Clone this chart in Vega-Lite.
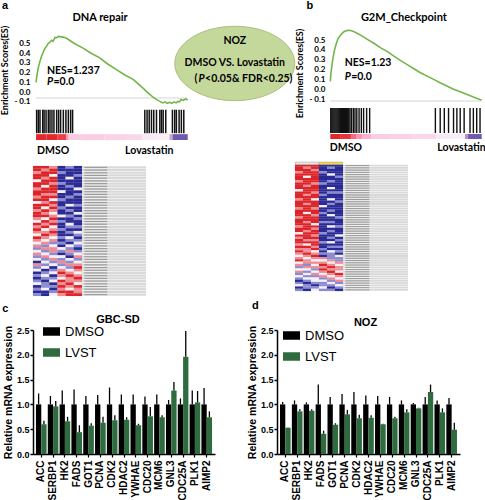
{
"$schema": "https://vega.github.io/schema/vega-lite/v6.json",
"background": "white",
"padding": {"left": 0, "top": 0, "right": 0, "bottom": 0},
"config": {"view": {"stroke": null}, "font": "Liberation Sans", "axis": {"labelColor": "black", "titleColor": "black", "labelOverlap": false}, "axisY": {"labelOverlap": false}, "axisQuantitative": {"labelOverlap": false}},
"data": {"values": [{"k": 1}]},
"datasets": {
"esA": [{"x":0,"es":0.1},{"x":0.6,"es":0.17},{"x":1.5,"es":0.25},{"x":2.5,"es":0.31},{"x":3.7,"es":0.37},{"x":4.8,"es":0.41},{"x":5.9,"es":0.45},{"x":7,"es":0.47},{"x":8.1,"es":0.5},{"x":9.2,"es":0.51},{"x":10.3,"es":0.53},{"x":11.2,"es":0.52},{"x":12.5,"es":0.56},{"x":13.5,"es":0.555},{"x":14.7,"es":0.57},{"x":16.8,"es":0.565},{"x":18.5,"es":0.56},{"x":20.1,"es":0.55},{"x":25,"es":0.5},{"x":31,"es":0.45},{"x":36,"es":0.4},{"x":42,"es":0.35},{"x":47,"es":0.29},{"x":53,"es":0.23},{"x":58,"es":0.18},{"x":64,"es":0.13},{"x":67,"es":0.09},{"x":70.5,"es":0.04},{"x":72.5,"es":0.01},{"x":74.8,"es":-0.02},{"x":77,"es":-0.05},{"x":79.2,"es":-0.075},{"x":81,"es":-0.09},{"x":83.6,"es":-0.11},{"x":85,"es":-0.1},{"x":86.5,"es":-0.115},{"x":88,"es":-0.105},{"x":89.5,"es":-0.115},{"x":91,"es":-0.1},{"x":92.3,"es":-0.11},{"x":93.5,"es":-0.095},{"x":94.5,"es":-0.1},{"x":95.6,"es":-0.075},{"x":97,"es":-0.085},{"x":98.5,"es":-0.07},{"x":100,"es":-0.08}],
"esB": [{"x":0,"es":0.08},{"x":0.5,"es":0.17},{"x":1.5,"es":0.29},{"x":2.5,"es":0.38},{"x":3.7,"es":0.45},{"x":5,"es":0.51},{"x":7,"es":0.555},{"x":9,"es":0.585},{"x":11.4,"es":0.6},{"x":13.5,"es":0.597},{"x":15.8,"es":0.585},{"x":20,"es":0.55},{"x":24.5,"es":0.507},{"x":29,"es":0.465},{"x":33.3,"es":0.42},{"x":38,"es":0.38},{"x":42,"es":0.337},{"x":46,"es":0.295},{"x":50.8,"es":0.25},{"x":55,"es":0.21},{"x":59.5,"es":0.167},{"x":64,"es":0.133},{"x":68.3,"es":0.1},{"x":72.5,"es":0.065},{"x":77,"es":0.032},{"x":81,"es":0.003},{"x":85.8,"es":-0.026},{"x":90,"es":-0.052},{"x":94.5,"es":-0.08},{"x":97,"es":-0.095},{"x":98.9,"es":-0.105},{"x":100,"es":-0.11}],
"hitsA": [{"x":0.4},{"x":1.5},{"x":2.6},{"x":4.4},{"x":5.3},{"x":6.6},{"x":8.1},{"x":9.2},{"x":10.5},{"x":11.8},{"x":13.6},{"x":14.9},{"x":16.2},{"x":18},{"x":19.7},{"x":21.3},{"x":22.8},{"x":24.1},{"x":71.7},{"x":73.2},{"x":74.6},{"x":76.1},{"x":77.6},{"x":79.4},{"x":81.6},{"x":82.7},{"x":83.8},{"x":85.5},{"x":89.9},{"x":91.4},{"x":92.5},{"x":94.3},{"x":95.8},{"x":97.4}],
"hitsB": [{"x":0.3},{"x":1},{"x":1.7},{"x":2.4},{"x":3.1},{"x":3.8},{"x":4.5},{"x":5.2},{"x":5.9},{"x":6.6},{"x":7.3},{"x":8},{"x":8.7},{"x":9.4},{"x":10.1},{"x":10.8},{"x":11.5},{"x":12.2},{"x":13},{"x":14},{"x":15.2},{"x":16.3},{"x":17.5},{"x":19},{"x":20.5},{"x":22},{"x":24},{"x":26},{"x":69.4},{"x":72.6},{"x":75.3},{"x":78.1},{"x":81.4},{"x":83.6},{"x":85.8},{"x":88.4},{"x":92.3},{"x":94.5},{"x":96.7},{"x":98.9}],
"gradA": [{"s":0,"e":7,"v":1},{"s":7,"e":14,"v":1},{"s":14,"e":20,"v":0.9},{"s":20,"e":21.5,"v":0.5},{"s":21.5,"e":30,"v":0.22},{"s":30,"e":45,"v":0.2},{"s":45,"e":60,"v":0.18},{"s":60,"e":70,"v":0.15},{"s":70,"e":80,"v":0.05},{"s":80,"e":88,"v":0.02},{"s":88,"e":90,"v":-0.4},{"s":90,"e":100,"v":-0.85}],
"gradB": [{"s":0,"e":7,"v":1},{"s":7,"e":13.6,"v":0.95},{"s":13.6,"e":17,"v":0.7},{"s":17,"e":21,"v":0.5},{"s":21,"e":27,"v":0.35},{"s":27,"e":40,"v":0.2},{"s":40,"e":55,"v":0.18},{"s":55,"e":70,"v":0.15},{"s":70,"e":80,"v":0.05},{"s":80,"e":89,"v":0.02},{"s":89,"e":91,"v":-0.5},{"s":91,"e":100,"v":-0.85}],
"heatA": [
{"r":1,"1":2,"2":2,"3":1,"4":-2,"5":-1,"6":-2},{"r":2,"1":2,"2":1,"3":2,"4":-2,"5":-2,"6":-2},{"r":3,"1":1,"2":2,"3":2,"4":-1,"5":-2,"6":-2},{"r":4,"1":2,"2":2,"3":0,"4":-2,"5":-2,"6":-1},{"r":5,"1":2,"2":1,"3":2,"4":-2,"5":0,"6":-2},{"r":6,"1":0,"2":2,"3":2,"4":-2,"5":-2,"6":-2},{"r":7,"1":2,"2":2,"3":1,"4":-1,"5":-2,"6":-2},{"r":8,"1":2,"2":0,"3":2,"4":-2,"5":-1,"6":-2},{"r":9,"1":1,"2":2,"3":2,"4":-2,"5":-2,"6":0},{"r":10,"1":2,"2":2,"3":2,"4":0,"5":-2,"6":-2},{"r":11,"1":2,"2":1,"3":1,"4":-2,"5":-2,"6":-1},{"r":12,"1":1,"2":2,"3":2,"4":-2,"5":-1,"6":-2},{"r":13,"1":2,"2":2,"3":0,"4":-1,"5":-2,"6":-2},{"r":14,"1":0,"2":1,"3":2,"4":-2,"5":-2,"6":-2},{"r":15,"1":2,"2":2,"3":1,"4":-2,"5":0,"6":-1},{"r":16,"1":2,"2":0,"3":2,"4":-1,"5":-2,"6":-2},{"r":17,"1":1,"2":2,"3":1,"4":-2,"5":-1,"6":-2},{"r":18,"1":2,"2":1,"3":0,"4":-2,"5":-2,"6":0},{"r":19,"1":2,"2":2,"3":1,"4":0,"5":-1,"6":-2},{"r":20,"1":1,"2":0,"3":2,"4":-2,"5":-2,"6":-1},{"r":21,"1":0,"2":2,"3":1,"4":-1,"5":-2,"6":-2},{"r":22,"1":2,"2":1,"3":2,"4":-2,"5":0,"6":-2},{"r":23,"1":1,"2":2,"3":0,"4":-2,"5":-1,"6":-1},{"r":24,"1":2,"2":0,"3":1,"4":-1,"5":-2,"6":-2},{"r":25,"1":1,"2":1,"3":2,"4":-2,"5":-1,"6":0},{"r":26,"1":0,"2":2,"3":1,"4":-2,"5":-2,"6":-1},{"r":27,"1":2,"2":1,"3":0,"4":-1,"5":0,"6":-2},{"r":28,"1":1,"2":0,"3":1,"4":-2,"5":-1,"6":-1},{"r":29,"1":0,"2":1,"3":-1,"4":-1,"5":-2,"6":0},{"r":30,"1":1,"2":-1,"3":0,"4":-2,"5":0,"6":-1},{"r":31,"1":-1,"2":1,"3":1,"4":0,"5":-1,"6":-2},{"r":32,"1":0,"2":-1,"3":1,"4":-1,"5":1,"6":-1},{"r":33,"1":1,"2":0,"3":-1,"4":-2,"5":-1,"6":0},{"r":34,"1":-1,"2":1,"3":0,"4":0,"5":-2,"6":1},{"r":35,"1":0,"2":-1,"3":1,"4":-1,"5":0,"6":-1},{"r":36,"1":-2,"2":0,"3":-1,"4":1,"5":-1,"6":0},{"r":37,"1":1,"2":-1,"3":0,"4":-1,"5":1,"6":1},{"r":38,"1":-1,"2":0,"3":-2,"4":0,"5":-1,"6":2},{"r":39,"1":0,"2":-2,"3":-1,"4":1,"5":0,"6":1},{"r":40,"1":-2,"2":-1,"3":0,"4":2,"5":1,"6":0},{"r":41,"1":-1,"2":0,"3":-2,"4":1,"5":2,"6":1},{"r":42,"1":-2,"2":-1,"3":-1,"4":0,"5":1,"6":2},{"r":43,"1":-1,"2":-2,"3":0,"4":2,"5":1,"6":1},{"r":44,"1":0,"2":-1,"3":-2,"4":1,"5":2,"6":0},{"r":45,"1":-2,"2":-1,"3":-1,"4":2,"5":1,"6":2},{"r":46,"1":-1,"2":0,"3":-2,"4":1,"5":0,"6":1},{"r":47,"1":-2,"2":-2,"3":-1,"4":2,"5":2,"6":1},{"r":48,"1":-1,"2":-2,"3":0,"4":1,"5":2,"6":2}],
"heatB": [
{"r":1,"1":2,"2":2,"3":2,"4":-2,"5":-2,"6":-2},{"r":2,"1":2,"2":1,"3":2,"4":-2,"5":-1,"6":-2},{"r":3,"1":2,"2":2,"3":1,"4":-2,"5":-2,"6":-2},{"r":4,"1":1,"2":2,"3":2,"4":-1,"5":-2,"6":-2},{"r":5,"1":2,"2":2,"3":2,"4":-2,"5":0,"6":-2},{"r":6,"1":2,"2":0,"3":2,"4":-2,"5":-2,"6":-1},{"r":7,"1":2,"2":2,"3":2,"4":-2,"5":-2,"6":-2},{"r":8,"1":1,"2":2,"3":2,"4":-2,"5":-1,"6":-2},{"r":9,"1":2,"2":2,"3":1,"4":-1,"5":-2,"6":-2},{"r":10,"1":2,"2":1,"3":2,"4":-2,"5":-2,"6":-2},{"r":11,"1":2,"2":2,"3":2,"4":-2,"5":0,"6":-2},{"r":12,"1":0,"2":2,"3":2,"4":-2,"5":-2,"6":-2},{"r":13,"1":2,"2":2,"3":1,"4":-2,"5":-1,"6":-1},{"r":14,"1":2,"2":1,"3":2,"4":-1,"5":-2,"6":-2},{"r":15,"1":2,"2":2,"3":2,"4":-2,"5":-2,"6":-2},{"r":16,"1":1,"2":2,"3":0,"4":-2,"5":0,"6":-2},{"r":17,"1":2,"2":2,"3":2,"4":-2,"5":-2,"6":-1},{"r":18,"1":2,"2":1,"3":2,"4":-2,"5":-1,"6":-2},{"r":19,"1":2,"2":2,"3":2,"4":0,"5":-2,"6":-2},{"r":20,"1":1,"2":2,"3":1,"4":-2,"5":-2,"6":-2},{"r":21,"1":2,"2":2,"3":2,"4":-2,"5":-1,"6":-2},{"r":22,"1":2,"2":0,"3":2,"4":-1,"5":-2,"6":-2},{"r":23,"1":2,"2":2,"3":1,"4":-2,"5":0,"6":-2},{"r":24,"1":1,"2":2,"3":2,"4":-2,"5":-2,"6":-1},{"r":25,"1":2,"2":2,"3":2,"4":-2,"5":-2,"6":-2},{"r":26,"1":2,"2":1,"3":2,"4":-1,"5":-1,"6":-2},{"r":27,"1":2,"2":2,"3":0,"4":-2,"5":-2,"6":-2},{"r":28,"1":1,"2":2,"3":2,"4":-2,"5":0,"6":-1},{"r":29,"1":2,"2":2,"3":1,"4":-2,"5":-2,"6":-2},{"r":30,"1":2,"2":1,"3":2,"4":-2,"5":-1,"6":-2},{"r":31,"1":0,"2":2,"3":2,"4":-1,"5":-2,"6":-2},{"r":32,"1":2,"2":2,"3":1,"4":-2,"5":-2,"6":0},{"r":33,"1":1,"2":2,"3":2,"4":-2,"5":-1,"6":-2},{"r":34,"1":2,"2":1,"3":1,"4":-2,"5":-2,"6":-1},{"r":35,"1":2,"2":2,"3":2,"4":-1,"5":0,"6":-2},{"r":36,"1":1,"2":0,"3":2,"4":-2,"5":-2,"6":-2},{"r":37,"1":2,"2":2,"3":1,"4":-2,"5":-1,"6":-1},{"r":38,"1":1,"2":1,"3":2,"4":-1,"5":-2,"6":-2},{"r":39,"1":2,"2":1,"3":0,"4":-2,"5":0,"6":-1},{"r":40,"1":1,"2":2,"3":1,"4":-1,"5":-1,"6":-2},{"r":41,"1":0,"2":1,"3":2,"4":-2,"5":-1,"6":0},{"r":42,"1":1,"2":0,"3":1,"4":1,"5":-1,"6":-1},{"r":43,"1":2,"2":1,"3":0,"4":0,"5":1,"6":-1},{"r":44,"1":0,"2":1,"3":1,"4":1,"5":0,"6":1},{"r":45,"1":1,"2":-1,"3":0,"4":2,"5":1,"6":0},{"r":46,"1":-1,"2":1,"3":1,"4":1,"5":2,"6":1},{"r":47,"1":0,"2":0,"3":-1,"4":2,"5":1,"6":1},{"r":48,"1":1,"2":-1,"3":0,"4":1,"5":2,"6":0},{"r":49,"1":-1,"2":0,"3":1,"4":0,"5":1,"6":2},{"r":50,"1":0,"2":-1,"3":-1,"4":1,"5":0,"6":1},{"r":51,"1":-1,"2":0,"3":0,"4":-1,"5":1,"6":0},{"r":52,"1":-2,"2":-1,"3":0,"4":0,"5":-1,"6":1},{"r":53,"1":-1,"2":-2,"3":-1,"4":-1,"5":0,"6":-1},{"r":54,"1":0,"2":-1,"3":-2,"4":-1,"5":-1,"6":0},{"r":55,"1":-2,"2":-1,"3":-1,"4":0,"5":-2,"6":-1},{"r":56,"1":-1,"2":-2,"3":0,"4":-1,"5":-1,"6":-2}],
"barC": [
{"gene":"ACC","grp":"DMSO","val":1,"err":1.22},{"gene":"ACC","grp":"LVST","val":0.6,"err":0.67},
{"gene":"SERBP1","grp":"DMSO","val":1,"err":1.17},{"gene":"SERBP1","grp":"LVST","val":0.96,"err":1.07},
{"gene":"HK2","grp":"DMSO","val":1,"err":1.28},{"gene":"HK2","grp":"LVST","val":0.66,"err":0.75},
{"gene":"FADS","grp":"DMSO","val":1,"err":1.3},{"gene":"FADS","grp":"LVST","val":0.44,"err":0.58},
{"gene":"GOT1","grp":"DMSO","val":1,"err":1.17},{"gene":"GOT1","grp":"LVST","val":0.57,"err":0.62},
{"gene":"PCNA","grp":"DMSO","val":1,"err":1.19},{"gene":"PCNA","grp":"LVST","val":0.63,"err":0.75},
{"gene":"CDK2","grp":"DMSO","val":1,"err":1.34},{"gene":"CDK2","grp":"LVST","val":0.68,"err":0.78},
{"gene":"HDAC2","grp":"DMSO","val":1,"err":1.2},{"gene":"HDAC2","grp":"LVST","val":0.69,"err":0.74},
{"gene":"YWHAE","grp":"DMSO","val":1,"err":1.2},{"gene":"YWHAE","grp":"LVST","val":0.58,"err":0.61},
{"gene":"CDC20","grp":"DMSO","val":1,"err":1.16},{"gene":"CDC20","grp":"LVST","val":0.76,"err":0.95},
{"gene":"MCM6","grp":"DMSO","val":1,"err":1.2},{"gene":"MCM6","grp":"LVST","val":0.74,"err":0.78},
{"gene":"GNL3","grp":"DMSO","val":1,"err":1.09},{"gene":"GNL3","grp":"LVST","val":1.28,"err":1.45},
{"gene":"CDC25A","grp":"DMSO","val":1,"err":1.12},{"gene":"CDC25A","grp":"LVST","val":1.96,"err":2.48},
{"gene":"PLK1","grp":"DMSO","val":1,"err":1.28},{"gene":"PLK1","grp":"LVST","val":1.04,"err":1.27},
{"gene":"AIMP2","grp":"DMSO","val":1,"err":1.33},{"gene":"AIMP2","grp":"LVST","val":0.74,"err":0.86}],
"barD": [
{"gene":"ACC","grp":"DMSO","val":1,"err":1.05},{"gene":"ACC","grp":"LVST","val":0.53,"err":0.535},
{"gene":"SERBP1","grp":"DMSO","val":1,"err":1.08},{"gene":"SERBP1","grp":"LVST","val":0.86,"err":0.9},
{"gene":"HK2","grp":"DMSO","val":1,"err":1.04},{"gene":"HK2","grp":"LVST","val":0.87,"err":0.9},
{"gene":"FADS","grp":"DMSO","val":1,"err":1.4},{"gene":"FADS","grp":"LVST","val":0.41,"err":0.47},
{"gene":"GOT1","grp":"DMSO","val":1,"err":1.15},{"gene":"GOT1","grp":"LVST","val":0.59,"err":0.62},
{"gene":"PCNA","grp":"DMSO","val":1,"err":1.21},{"gene":"PCNA","grp":"LVST","val":0.8,"err":0.89},
{"gene":"CDK2","grp":"DMSO","val":1,"err":1.25},{"gene":"CDK2","grp":"LVST","val":0.72,"err":0.79},
{"gene":"HDAC2","grp":"DMSO","val":1,"err":1.18},{"gene":"HDAC2","grp":"LVST","val":0.73,"err":0.78},
{"gene":"YWHAE","grp":"DMSO","val":1,"err":1.17},{"gene":"YWHAE","grp":"LVST","val":0.6,"err":0.61},
{"gene":"CDC20","grp":"DMSO","val":1,"err":1.15},{"gene":"CDC20","grp":"LVST","val":0.72,"err":0.75},
{"gene":"MCM6","grp":"DMSO","val":1,"err":1.08},{"gene":"MCM6","grp":"LVST","val":0.84,"err":0.9},
{"gene":"GNL3","grp":"DMSO","val":1,"err":1.03},{"gene":"GNL3","grp":"LVST","val":0.92,"err":0.93},
{"gene":"CDC25A","grp":"DMSO","val":1,"err":1.15},{"gene":"CDC25A","grp":"LVST","val":1.25,"err":1.4},
{"gene":"PLK1","grp":"DMSO","val":1,"err":1.08},{"gene":"PLK1","grp":"LVST","val":0.84,"err":0.92},
{"gene":"AIMP2","grp":"DMSO","val":1,"err":1.13},{"gene":"AIMP2","grp":"LVST","val":0.49,"err":0.63}]
},
"columns": 2,
"align": "each",
"bounds": "flush",
"spacing": {"row": 20, "column": 62},
"resolve": {"scale": {"color": "independent"}, "legend": {"color": "independent"}},
"concat": [
 {"width": 182, "height": 110,
  "layer": [
   {"mark": {"type": "rule", "color": "#d4d4d4", "strokeWidth": 1},
    "encoding": {"x": {"datum": 0, "type": "quantitative", "scale": {"domain": [-2, 117.97], "nice": false, "zero": false}, "axis": null}, "x2": {"datum": 100},
     "y": {"datum": -0.06, "type": "quantitative", "scale": {"domain": [-0.5, 0.625], "nice": false, "zero": false},
      "axis": {"tickCount": 11, "labelExpr": "(datum.value < -0.15 || datum.value > 0.55) ? '' : (datum.value < -0.05 ? '- 0.1' : format(datum.value, '.1f'))", "labelOverlap": false, "domain": false, "ticks": false, "grid": false, "labelFont": "Lato", "labelFontWeight": "bold", "labelFontSize": 8, "labelPadding": 3, "title": "Enrichment Scores(ES)", "titleFont": "Lato", "titleFontSize": 9, "titleFontWeight": "bold", "titleY": 39, "titlePadding": 4}}}},
   {"data": {"name": "esA"}, "mark": {"type": "line", "color": "#72b64a", "strokeWidth": 1.6},
    "encoding": {"x": {"field": "x", "type": "quantitative"}, "y": {"field": "es", "type": "quantitative"}}},
   {"data": {"name": "hitsA"}, "mark": {"type": "rule", "color": "#111111", "strokeWidth": 1.5},
    "encoding": {"x": {"field": "x", "type": "quantitative"}, "y": {"datum": -0.18}, "y2": {"datum": -0.42}}},
   {"data": {"name": "gradA"}, "mark": {"type": "rect"},
    "encoding": {"x": {"field": "s", "type": "quantitative"}, "x2": {"field": "e"}, "y": {"datum": -0.43}, "y2": {"datum": -0.49},
     "color": {"field": "v", "type": "quantitative", "scale": {"domain": [-1, 0, 1], "range": ["#4646a6", "#f8f2f6", "#e3282b"]}, "legend": null}}},
   {"mark": {"type": "point", "shape": "M-1,0A1,0.62,0,1,0,1,0A1,0.62,0,1,0,-1,0Z", "size": 14400, "filled": true, "fill": "#c5d89c", "stroke": "#a9c07c", "strokeWidth": 1, "opacity": 1},
    "encoding": {"x": {"datum": 131}, "y": {"datum": 0.293}}},
   {"mark": {"type": "text", "font": "Lato", "fontWeight": "bold", "fontSize": 10.5},
    "encoding": {"x": {"datum": 131}, "y": {"datum": 0.523}, "text": {"value": "NOZ"}}},
   {"mark": {"type": "text", "font": "Lato", "fontWeight": "bold", "fontSize": 10.5},
    "encoding": {"x": {"datum": 131}, "y": {"datum": 0.298}, "text": {"value": "DMSO VS. Lovastatin"}}},
   {"mark": {"type": "text", "font": "Lato", "fontWeight": "bold", "fontSize": 10.5, "align": "left"},
    "encoding": {"x": {"datum": 104.5}, "y": {"datum": 0.134}, "text": {"value": "("}}},
   {"mark": {"type": "text", "font": "Lato", "fontWeight": "bold", "fontStyle": "italic", "fontSize": 10.5, "align": "left", "dx": 4},
    "encoding": {"x": {"datum": 104.5}, "y": {"datum": 0.134}, "text": {"value": "P"}}},
   {"mark": {"type": "text", "font": "Lato", "fontWeight": "bold", "fontSize": 10.5, "align": "left", "dx": 10.5},
    "encoding": {"x": {"datum": 104.5}, "y": {"datum": 0.134}, "text": {"value": "<0.05& FDR<0.25)"}}},
   {"mark": {"type": "text", "font": "Lato", "fontWeight": "bold", "fontSize": 10.5, "align": "left"},
    "encoding": {"x": {"datum": 7.2}, "y": {"datum": 0.216}, "text": {"value": "NES=1.237"}}},
   {"mark": {"type": "text", "font": "Lato", "fontWeight": "bold", "fontStyle": "italic", "fontSize": 10.5, "align": "left"},
    "encoding": {"x": {"datum": 7.2}, "y": {"datum": 0.104}, "text": {"value": "P"}}},
   {"mark": {"type": "text", "font": "Lato", "fontWeight": "bold", "fontSize": 10.5, "align": "left", "dx": 6.5},
    "encoding": {"x": {"datum": 7.2}, "y": {"datum": 0.104}, "text": {"value": "=0.0"}}},
   {"mark": {"type": "text", "font": "Lato", "fontWeight": "bold", "fontSize": 10.5, "align": "left"},
    "encoding": {"x": {"datum": 0.7}, "y": {"datum": -0.6}, "text": {"value": "DMSO"}}},
   {"mark": {"type": "text", "font": "Lato", "fontWeight": "bold", "fontSize": 10.5, "align": "left"},
    "encoding": {"x": {"datum": 58.7}, "y": {"datum": -0.6}, "text": {"value": "Lovastatin"}}},
   {"mark": {"type": "text", "font": "Lato", "fontWeight": "bold", "fontSize": 11},
    "encoding": {"x": {"datum": 42.2}, "y": {"datum": 0.758}, "text": {"value": "DNA repair"}}},
   {"mark": {"type": "text", "fontWeight": "bold", "fontSize": 11},
    "encoding": {"x": {"datum": -20.4}, "y": {"datum": 0.88}, "text": {"value": "a"}}}
  ]},
 {"width": 205, "height": 110,
  "layer": [
   {"mark": {"type": "rule", "color": "#d4d4d4", "strokeWidth": 1},
    "encoding": {"x": {"datum": 0, "type": "quantitative", "scale": {"domain": [-35.2, 100.2], "nice": false, "zero": false}, "axis": null}, "x2": {"datum": 100},
     "y": {"datum": -0.12, "type": "quantitative", "scale": {"domain": [-0.527, 0.592], "nice": false, "zero": false},
      "axis": {"offset": -52, "tickCount": 11, "labelExpr": "datum.value < -0.15 ? '' : (datum.value < -0.05 ? '- 0.1' : format(datum.value, '.1f'))", "labelOverlap": false, "domain": false, "ticks": false, "grid": false, "labelFont": "Lato", "labelFontWeight": "bold", "labelFontSize": 8, "labelPadding": 4, "title": "Enrichment Scores(ES)", "titleFont": "Lato", "titleFontSize": 9, "titleFontWeight": "bold", "titleY": 42, "titlePadding": 4}}}},
   {"data": {"name": "esB"}, "mark": {"type": "line", "color": "#72b64a", "strokeWidth": 1.6},
    "encoding": {"x": {"field": "x", "type": "quantitative"}, "y": {"field": "es", "type": "quantitative"}}},
   {"data": {"name": "hitsB"}, "mark": {"type": "rule", "color": "#111111", "strokeWidth": 1.4},
    "encoding": {"x": {"field": "x", "type": "quantitative"}, "y": {"datum": -0.191}, "y2": {"datum": -0.446}}},
   {"data": {"name": "gradB"}, "mark": {"type": "rect"},
    "encoding": {"x": {"field": "s", "type": "quantitative"}, "x2": {"field": "e"}, "y": {"datum": -0.456}, "y2": {"datum": -0.507},
     "color": {"field": "v", "type": "quantitative", "scale": {"domain": [-1, 0, 1], "range": ["#4646a6", "#f8f2f6", "#e3282b"]}, "legend": null}}},
   {"mark": {"type": "text", "font": "Lato", "fontWeight": "bold", "fontSize": 10.5, "align": "left"},
    "encoding": {"x": {"datum": 9.5}, "y": {"datum": 0.266}, "text": {"value": "NES=1.23"}}},
   {"mark": {"type": "text", "font": "Lato", "fontWeight": "bold", "fontStyle": "italic", "fontSize": 10.5, "align": "left"},
    "encoding": {"x": {"datum": 9.5}, "y": {"datum": 0.124}, "text": {"value": "P"}}},
   {"mark": {"type": "text", "font": "Lato", "fontWeight": "bold", "fontSize": 10.5, "align": "left", "dx": 6.5},
    "encoding": {"x": {"datum": 9.5}, "y": {"datum": 0.124}, "text": {"value": "=0.0"}}},
   {"mark": {"type": "text", "font": "Lato", "fontWeight": "bold", "fontSize": 10.5, "align": "left"},
    "encoding": {"x": {"datum": -0.3}, "y": {"datum": -0.598}, "text": {"value": "DMSO"}}},
   {"mark": {"type": "text", "font": "Lato", "fontWeight": "bold", "fontSize": 10.5, "align": "left"},
    "encoding": {"x": {"datum": 70.7}, "y": {"datum": -0.598}, "text": {"value": "Lovastatin"}}},
   {"mark": {"type": "text", "font": "Lato", "fontWeight": "bold", "fontSize": 11},
    "encoding": {"x": {"datum": 48.6}, "y": {"datum": 0.724}, "text": {"value": "G2M_Checkpoint"}}},
   {"mark": {"type": "text", "fontWeight": "bold", "fontSize": 11},
    "encoding": {"x": {"datum": -13.5}, "y": {"datum": 0.846}, "text": {"value": "b"}}}
  ]},
 {"width": 113, "height": 149,
  "layer": [
   {"data": {"name": "heatA"}, "mark": {"type": "rect", "color": "#d9d9d9", "height": 2.2},
    "encoding": {"x": {"datum": 6.5, "type": "quantitative", "scale": {"domain": [0.5, 14.35], "nice": false, "zero": false}, "axis": null}, "x2": {"datum": 14.35},
     "y": {"field": "r", "type": "quantitative", "scale": {"domain": [-1.345, 53.68], "reverse": true, "nice": false, "zero": false}, "axis": null}}},
   {"data": {"name": "heatA"}, "mark": {"type": "rule", "color": "#9a9a9a", "strokeWidth": 1.1},
    "encoding": {"x": {"datum": 6.8}, "x2": {"datum": 9.6}, "y": {"field": "r", "type": "quantitative"}}},
   {"data": {"name": "heatA"}, "transform": [{"fold": ["1", "2", "3", "4", "5", "6"], "as": ["col", "v"]}],
    "mark": {"type": "rect", "width": 8.3, "height": 2.85},
    "encoding": {"x": {"field": "col", "type": "quantitative"}, "y": {"field": "r", "type": "quantitative"},
     "color": {"field": "v", "type": "quantitative", "scale": {"domain": [-2, -1, 0, 1, 2], "range": ["#2a2a94", "#8b8bd2", "#f3eff5", "#ef8b92", "#db2529"]}, "legend": null}}}
  ]},
 {"width": 131, "height": 149,
  "layer": [
   {"data": {"name": "heatB"}, "mark": {"type": "rect", "color": "#d9d9d9", "height": 1.8},
    "encoding": {"x": {"datum": 6.5, "type": "quantitative", "scale": {"domain": [-1.75, 14.625], "nice": false, "zero": false}, "axis": null}, "x2": {"datum": 14.625},
     "y": {"field": "r", "type": "quantitative", "scale": {"domain": [-1.035, 64.9], "reverse": true, "nice": false, "zero": false}, "axis": null}}},
   {"data": {"name": "heatB"}, "mark": {"type": "rule", "color": "#9a9a9a", "strokeWidth": 1},
    "encoding": {"x": {"datum": 6.8}, "x2": {"datum": 9.8}, "y": {"field": "r", "type": "quantitative"}}},
   {"data": {"name": "heatB"}, "transform": [{"fold": ["1", "2", "3", "4", "5", "6"], "as": ["col", "v"]}],
    "mark": {"type": "rect", "width": 8.1, "height": 2.4},
    "encoding": {"x": {"field": "col", "type": "quantitative"}, "y": {"field": "r", "type": "quantitative"},
     "color": {"field": "v", "type": "quantitative", "scale": {"domain": [-2, -1, 0, 1, 2], "range": ["#2a2a94", "#8b8bd2", "#f3eff5", "#ef8b92", "#db2529"]}, "legend": null}}},
   {"mark": {"type": "rect", "color": "#e6e6e6", "height": 2.6, "stroke": "#888888", "strokeWidth": 0.4},
    "encoding": {"x": {"datum": 0.55}, "x2": {"datum": 3.45}, "y": {"datum": 0}}},
   {"mark": {"type": "rect", "color": "#f2d34a", "height": 2.6, "stroke": "#888888", "strokeWidth": 0.4},
    "encoding": {"x": {"datum": 3.55}, "x2": {"datum": 6.45}, "y": {"datum": 0}}}
  ]},
 {"width": 182, "height": 124,
  "layer": [
   {"mark": {"type": "rule", "color": "black", "strokeWidth": 0},
    "encoding": {"y": {"datum": 0, "type": "quantitative", "scale": {"domain": [0, 2.5], "nice": false},
      "axis": {"tickCount": 5, "labelExpr": "format(datum.value, '.1f')", "labelOverlap": false, "title": "Relative mRNA expression", "titleFontSize": 10.5, "titleFontWeight": "bold", "labelFontSize": 9, "labelFontWeight": "bold", "domainColor": "black", "domainWidth": 1.5, "tickColor": "black", "tickWidth": 1.5, "tickSize": 3, "grid": false, "labelPadding": 1, "titlePadding": 3}}}},
   {"data": {"name": "barC"}, "mark": {"type": "bar"},
    "encoding": {
     "x": {"field": "gene", "type": "nominal", "sort": null, "scale": {"paddingInner": 0.1, "paddingOuter": 0.25},
      "axis": {"labelAngle": -90, "labelFontSize": 10, "labelFontWeight": "bold", "labelPadding": 3, "labelOverlap": false, "domainColor": "black", "domainWidth": 1.5, "tickColor": "black", "tickWidth": 1.2, "tickSize": 3, "title": null}},
     "xOffset": {"field": "grp", "type": "nominal", "sort": ["DMSO", "LVST"]},
     "y": {"field": "val", "type": "quantitative"},
     "color": {"field": "grp", "type": "nominal", "scale": {"domain": ["DMSO", "LVST"], "range": ["#000000", "#2e6b3f"]},
      "legend": {"title": null, "orient": "none", "legendX": 10, "legendY": -7, "symbolType": "M-1,-0.5H1V0.5H-1Z", "symbolSize": 289, "symbolStrokeWidth": 0, "symbolOpacity": 1, "labelFontSize": 13, "labelColor": "black", "rowPadding": 5, "labelOffset": 5}}}},
   {"data": {"name": "barC"}, "mark": {"type": "rule", "color": "black", "strokeWidth": 1.3},
    "encoding": {"x": {"field": "gene", "type": "nominal", "sort": null}, "xOffset": {"field": "grp", "type": "nominal", "sort": ["DMSO", "LVST"]}, "y": {"field": "val", "type": "quantitative"}, "y2": {"field": "err"}}},
   {"mark": {"type": "text", "fontWeight": "bold", "fontSize": 11, "dx": -6},
    "encoding": {"x": {"datum": "HDAC2"}, "y": {"datum": 2.7}, "text": {"value": "GBC-SD"}}},
   {"mark": {"type": "text", "fontWeight": "bold", "fontSize": 11, "dx": -36},
    "encoding": {"x": {"datum": "ACC"}, "y": {"datum": 2.92}, "text": {"value": "c"}}}
  ]},
 {"width": 183, "height": 124,
  "layer": [
   {"mark": {"type": "rule", "color": "black", "strokeWidth": 0},
    "encoding": {"y": {"datum": 0, "type": "quantitative", "scale": {"domain": [0, 2.5], "nice": false},
      "axis": {"tickCount": 5, "labelExpr": "format(datum.value, '.1f')", "labelOverlap": false, "title": "Relative mRNA expression", "titleFontSize": 10.5, "titleFontWeight": "bold", "labelFontSize": 9, "labelFontWeight": "bold", "domainColor": "black", "domainWidth": 1.5, "tickColor": "black", "tickWidth": 1.5, "tickSize": 3, "grid": false, "labelPadding": 1, "titlePadding": 3}}}},
   {"data": {"name": "barD"}, "mark": {"type": "bar"},
    "encoding": {
     "x": {"field": "gene", "type": "nominal", "sort": null, "scale": {"paddingInner": 0.1, "paddingOuter": 0.25},
      "axis": {"labelAngle": -90, "labelFontSize": 10, "labelFontWeight": "bold", "labelPadding": 3, "labelOverlap": false, "domainColor": "black", "domainWidth": 1.5, "tickColor": "black", "tickWidth": 1.2, "tickSize": 3, "title": null}},
     "xOffset": {"field": "grp", "type": "nominal", "sort": ["DMSO", "LVST"]},
     "y": {"field": "val", "type": "quantitative"},
     "color": {"field": "grp", "type": "nominal", "scale": {"domain": ["DMSO", "LVST"], "range": ["#000000", "#2e6b3f"]},
      "legend": {"title": null, "orient": "none", "legendX": 6, "legendY": -3, "symbolType": "M-1,-0.5H1V0.5H-1Z", "symbolSize": 289, "symbolStrokeWidth": 0, "symbolOpacity": 1, "labelFontSize": 13, "labelColor": "black", "rowPadding": 5, "labelOffset": 5}}}},
   {"data": {"name": "barD"}, "mark": {"type": "rule", "color": "black", "strokeWidth": 1.3},
    "encoding": {"x": {"field": "gene", "type": "nominal", "sort": null}, "xOffset": {"field": "grp", "type": "nominal", "sort": ["DMSO", "LVST"]}, "y": {"field": "val", "type": "quantitative"}, "y2": {"field": "err"}}},
   {"mark": {"type": "text", "fontWeight": "bold", "fontSize": 11, "dx": -3},
    "encoding": {"x": {"datum": "HDAC2"}, "y": {"datum": 2.64}, "text": {"value": "NOZ"}}},
   {"mark": {"type": "text", "fontWeight": "bold", "fontSize": 11, "dx": -30},
    "encoding": {"x": {"datum": "ACC"}, "y": {"datum": 2.98}, "text": {"value": "d"}}}
  ]}
]
}
